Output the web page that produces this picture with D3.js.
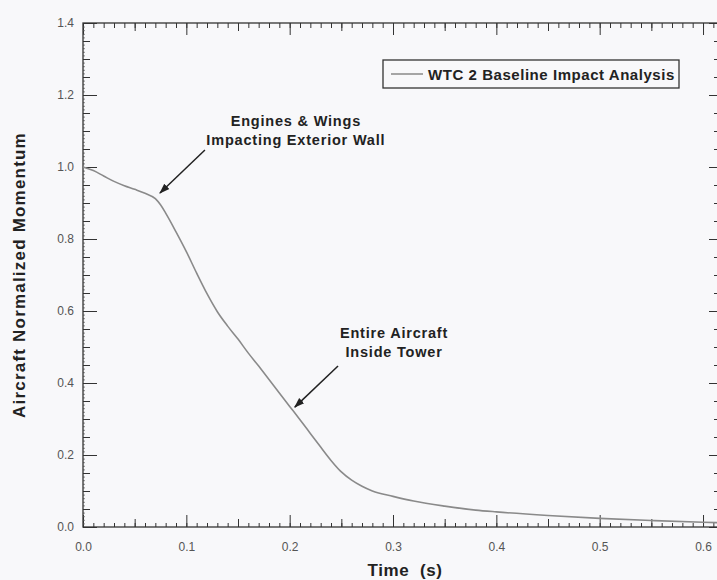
<!DOCTYPE html>
<html>
<head>
<meta charset="utf-8">
<script src="https://cdn.jsdelivr.net/npm/d3@7"></script>
<style>
  html, body { margin: 0; padding: 0; background: #f8f8fa; }
  svg { display: block; }
  .tick text { font-family: "Liberation Sans", Arial, sans-serif; font-size: 12px; fill: #555; }
  .lbl { font-family: "Liberation Sans", Arial, sans-serif; font-weight: bold; fill: #222; }
</style>
</head>
<body>
<script>
"use strict";

// time (s) and normalized momentum
const time = [0.0, 0.01, 0.02, 0.03, 0.04, 0.05, 0.06, 0.07, 0.075, 0.08, 0.09, 0.10, 0.11, 0.12, 0.13, 0.14, 0.15, 0.16,
              0.17, 0.18, 0.19, 0.20, 0.21, 0.22, 0.23, 0.24, 0.25, 0.26, 0.27, 0.28, 0.30, 0.32, 0.35, 0.38,
              0.40, 0.45, 0.50, 0.55, 0.60, 0.614];
const momentum = [1.0, 0.99, 0.975, 0.96, 0.948, 0.938, 0.927, 0.912, 0.895, 0.872, 0.82, 0.765, 0.705, 0.648, 0.598, 0.558,
                  0.522, 0.483, 0.447, 0.41, 0.372, 0.335, 0.298, 0.26, 0.222, 0.185, 0.153, 0.13, 0.113, 0.10, 0.085, 0.072,
                  0.058, 0.047, 0.042, 0.032, 0.024, 0.018, 0.013, 0.012];

const xMajor = [0.0, 0.1, 0.2, 0.3, 0.4, 0.5, 0.6];
const yMajor = [0.0, 0.2, 0.4, 0.6, 0.8, 1.0, 1.2, 1.4];
const seriesName = "WTC 2 Baseline Impact Analysis";
const notes = [
  { lines: ["Engines & Wings", "Impacting Exterior Wall"], tx: 0.206, ty: 1.114, from: [0.118, 1.047], to: [0.0745, 0.928] },
  { lines: ["Entire Aircraft", "Inside Tower"], tx: 0.301, ty: 0.525, from: [0.2468, 0.447], to: [0.205, 0.333] }
];

const W = 717, H = 580;
const pL = 83, pR = 718, pT = 23, pB = 527;

const x = d3.scaleLinear().domain([0, 0.6145]).range([pL, pR]);
const y = d3.scaleLinear().domain([0, 1.4]).range([pB, pT]);

const svg = d3.select("body").append("svg").attr("width", W).attr("height", H);

// inward ticks in tiers
const xMinor = d3.range(0, 62).map(i => i / 100).filter(v => v <= 0.6145);
const xMid = xMinor.filter(v => Math.round(v * 100) % 5 === 0 && Math.round(v * 100) % 10 !== 0);
const yMinor = d3.range(0, 29).map(i => i * 0.05);
const yFine = d3.range(0, 141).map(i => i / 100);

function drawAxis(gTrans, axisFn, scale, tiers) {
  tiers.forEach(t => {
    const g = svg.append("g").attr("transform", gTrans)
      .call(axisFn(scale).tickValues(t.vals).tickSize(t.size).tickSizeOuter(0).tickFormat(""));
    g.select(".domain").remove();
    g.selectAll(".tick line").attr("stroke", t.color || "#333").attr("stroke-width", 1);
  });
}

// bottom
drawAxis(`translate(0,${pB})`, d3.axisBottom, x, [
  { vals: xMinor, size: -4 },
  { vals: xMid, size: -8 },
  { vals: xMajor, size: -12 }
]);
svg.append("g").attr("transform", `translate(0,${pB})`)
  .call(d3.axisBottom(x).tickValues(xMajor).tickSize(0).tickPadding(15).tickFormat(d3.format(".1f")))
  .select(".domain").remove();
// top
drawAxis(`translate(0,${pT})`, d3.axisTop, x, [
  { vals: xMinor, size: -5 },
  { vals: xMid, size: -8 },
  { vals: xMajor, size: -12 }
]);
// left
drawAxis(`translate(${pL},0)`, d3.axisLeft, y, [
  { vals: yFine, size: -2, color: "#888" },
  { vals: yMinor, size: -7 },
  { vals: yMajor, size: -14 }
]);
svg.append("g").attr("transform", `translate(${pL},0)`)
  .call(d3.axisLeft(y).tickValues(yMajor).tickSize(0).tickPadding(9).tickFormat(d3.format(".1f")))
  .select(".domain").remove();
// right
drawAxis(`translate(${pR},0)`, d3.axisRight, y, [
  { vals: yMinor, size: -4 },
  { vals: yMajor, size: -9 }
]);

// frame
svg.append("rect").attr("x", pL).attr("y", pT)
  .attr("width", pR - pL).attr("height", pB - pT)
  .attr("fill", "none").attr("stroke", "#333").attr("stroke-width", 1.3);

// curve
const data = time.map((t, i) => ({ t, m: momentum[i] }));
svg.append("path").datum(data)
  .attr("fill", "none").attr("stroke", "#8a8a8a").attr("stroke-width", 1.6)
  .attr("d", d3.line().x(d => x(d.t)).y(d => y(d.m)).curve(d3.curveMonotoneX));

// legend
const lg = svg.append("g").attr("transform", "translate(383,60)");
lg.append("rect").attr("width", 296).attr("height", 28)
  .attr("fill", "none").attr("stroke", "#333").attr("stroke-width", 1.3);
lg.append("line").attr("x1", 8).attr("x2", 40).attr("y1", 14).attr("y2", 14)
  .attr("stroke", "#777").attr("stroke-width", 1.3);
lg.append("text").attr("class", "lbl").attr("x", 45).attr("y", 19.5)
  .style("font-size", "15px").style("letter-spacing", "0.55px").text(seriesName);

// annotations
const defs = svg.append("defs");
defs.append("marker").attr("id", "ah").attr("viewBox", "0 0 10 10")
  .attr("refX", 9).attr("refY", 5).attr("markerWidth", 7).attr("markerHeight", 7)
  .attr("orient", "auto")
  .append("path").attr("d", "M0,1.5 L10,5 L0,8.5 z").attr("fill", "#222");

notes.forEach(n => {
  const t = svg.append("text").attr("class", "lbl").attr("text-anchor", "middle")
    .style("font-size", "14.5px").style("letter-spacing", "0.8px")
    .attr("x", x(n.tx)).attr("y", y(n.ty));
  n.lines.forEach((s, i) => t.append("tspan").attr("x", x(n.tx)).attr("dy", i ? 19 : 0).text(s));
  svg.append("line")
    .attr("x1", x(n.from[0])).attr("y1", y(n.from[1]))
    .attr("x2", x(n.to[0])).attr("y2", y(n.to[1]))
    .attr("stroke", "#222").attr("stroke-width", 1.5).attr("marker-end", "url(#ah)");
});

// axis titles
svg.append("text").attr("class", "lbl").attr("text-anchor", "middle")
  .style("font-size", "17px").style("letter-spacing", "0.6px").style("white-space", "pre")
  .attr("x", 405).attr("y", 576).text("Time  (s)");
svg.append("text").attr("class", "lbl").attr("text-anchor", "middle")
  .style("font-size", "17px").style("letter-spacing", "1.2px")
  .attr("transform", "translate(25,275) rotate(-90)")
  .text("Aircraft Normalized Momentum");
</script>
</body>
</html>
